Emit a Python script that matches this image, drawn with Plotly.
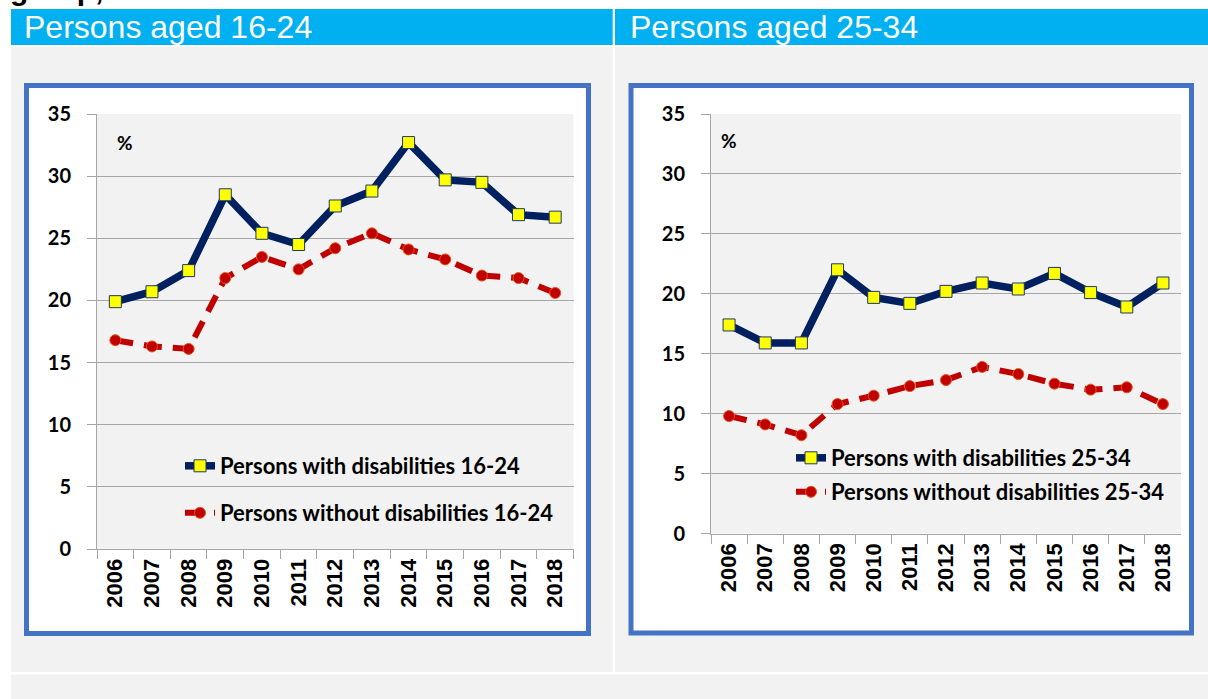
import plotly.graph_objects as go

# ---------------- data ----------------
years = ["2006", "2007", "2008", "2009", "2010", "2011", "2012",
         "2013", "2014", "2015", "2016", "2017", "2018"]
with_dis_16_24 = [19.9, 20.7, 22.4, 28.5, 25.4, 24.5, 27.6, 28.8, 32.7, 29.7, 29.5, 26.9, 26.7]
without_dis_16_24 = [16.8, 16.3, 16.1, 21.8, 23.5, 22.5, 24.2, 25.4, 24.1, 23.3, 22.0, 21.8, 20.6]
with_dis_25_34 = [17.4, 15.9, 15.9, 22.0, 19.7, 19.2, 20.2, 20.9, 20.4, 21.7, 20.1, 18.9, 20.9]
without_dis_25_34 = [9.8, 9.1, 8.2, 10.8, 11.5, 12.3, 12.8, 13.9, 13.3, 12.5, 12.0, 12.2, 10.8]
y_ticks = [0, 5, 10, 15, 20, 25, 30, 35]
panel_titles = ["Persons aged 16-24", "Persons aged 25-34"]
legend_names = [
    ["Persons with disabilities 16-24", "Persons without disabilities 16-24"],
    ["Persons with disabilities 25-34", "Persons without disabilities 25-34"],
]

W, H = 1208, 699


def px(x):
    return x / W


def py(y):
    return 1 - y / H


NAVY = "#002060"
RED = "#c00000"
GRID = "#a6a6a6"
BOXBLUE = "#4472c4"
HEADBLUE = "#00b0f0"
PANEL = "#f2f2f2"

fig = go.Figure()

series = [
    (with_dis_16_24, without_dis_16_24, "x", "y", "legend", "legend2", 0),
    (with_dis_25_34, without_dis_25_34, "x2", "y2", "legend3", "legend4", 1),
]
for w, wo, xa, ya, lg1, lg2, i in series:
    fig.add_trace(go.Scatter(
        x=years, y=w, xaxis=xa, yaxis=ya, mode="lines+markers",
        name=legend_names[i][0], legend=lg1,
        line=dict(color=NAVY, width=7.5),
        marker=dict(symbol="square", size=12, color="#ffff00",
                    line=dict(color="#1f3864", width=1)),
    ))
    fig.add_trace(go.Scatter(
        x=years, y=wo, xaxis=xa, yaxis=ya, mode="lines+markers",
        name=legend_names[i][1], legend=lg2,
        line=dict(color=RED, width=6, dash="18px,11px"),
        marker=dict(symbol="circle", size=11, color=RED,
                    line=dict(color="#e4541a", width=1)),
    ))

shapes = []
# grey table cells
shapes.append(dict(type="rect", xref="paper", yref="paper", x0=px(11), x1=px(612.7),
                   y0=py(672), y1=py(47), fillcolor=PANEL, line_width=0, layer="below"))
shapes.append(dict(type="rect", xref="paper", yref="paper", x0=px(615), x1=px(1208),
                   y0=py(672), y1=py(47), fillcolor=PANEL, line_width=0, layer="below"))
shapes.append(dict(type="rect", xref="paper", yref="paper", x0=px(11), x1=px(1208),
                   y0=py(699), y1=py(674.5), fillcolor=PANEL, line_width=0, layer="below"))
# blue headers
shapes.append(dict(type="rect", xref="paper", yref="paper", x0=px(11), x1=px(612.7),
                   y0=py(45), y1=py(9), fillcolor=HEADBLUE, line_width=0, layer="below"))
shapes.append(dict(type="rect", xref="paper", yref="paper", x0=px(615), x1=px(1208),
                   y0=py(45), y1=py(9), fillcolor=HEADBLUE, line_width=0, layer="below"))
# chart boxes
shapes.append(dict(type="rect", xref="paper", yref="paper", x0=px(26.5), x1=px(588.5),
                   y0=py(633.5), y1=py(85.5), fillcolor="white",
                   line=dict(color=BOXBLUE, width=5), layer="below"))
shapes.append(dict(type="rect", xref="paper", yref="paper", x0=px(631), x1=px(1191.5),
                   y0=py(633), y1=py(85.5), fillcolor="white",
                   line=dict(color=BOXBLUE, width=5), layer="below"))
# plot area backgrounds
for xa, ya in [("x", "y"), ("x2", "y2")]:
    shapes.append(dict(type="rect", xref=xa + " domain", yref=ya + " domain",
                       x0=0, x1=1, y0=0, y1=1, fillcolor=PANEL, line_width=0, layer="below"))

annotations = []
annotations.append(dict(text="group, 25", xref="paper", yref="paper", x=px(8), y=py(8),
                        xanchor="left", yanchor="bottom", showarrow=False,
                        font=dict(family="Liberation Sans", size=30, color="black", weight="bold")))
for t, x in zip(panel_titles, [22, 628]):
    annotations.append(dict(text=t, xref="paper", yref="paper", x=px(x), y=py(27.5),
                            xanchor="left", yanchor="middle", showarrow=False,
                            font=dict(family="Liberation Sans", size=32, color="white")))
for x, y in [(125, 142), (729, 140)]:
    annotations.append(dict(text="%", xref="paper", yref="paper", x=px(x), y=py(y),
                            xanchor="center", yanchor="middle", showarrow=False,
                            font=dict(family="Lato", size=19, color="black", weight="bold")))

xaxis_common = dict(
    type="category", range=[-0.5, 12.5], automargin=False,
    showline=True, linecolor=GRID, linewidth=1,
    ticks="outside", ticklen=9, tickcolor=GRID, tickson="boundaries",
    showgrid=False, tickangle=-90, ticklabelstandoff=0,
    tickfont=dict(family="Liberation Sans", size=22, color="black", weight="bold"),
    fixedrange=True,
)
yaxis_common = dict(
    range=[0, 35], tickvals=y_ticks, automargin=False,
    showline=True, linecolor=GRID, linewidth=1,
    ticks="outside", ticklen=9, tickcolor=GRID, showgrid=True, gridcolor=GRID,
    gridwidth=1, zeroline=False, ticklabelstandoff=12,
    tickfont=dict(family="Lato", size=20, color="black", weight="bold"),
    fixedrange=True,
)

legend_common = dict(bgcolor="rgba(0,0,0,0)", borderwidth=0, xanchor="left", yanchor="middle",
                     font=dict(family="Lato", size=22, color="black", weight="bold"),
                     itemclick=False, itemdoubleclick=False)

fig.update_layout(
    template="none",
    width=W, height=H, margin=dict(l=0, r=0, t=0, b=0, pad=0, autoexpand=False),
    paper_bgcolor="white", plot_bgcolor=PANEL,
    showlegend=True,
    xaxis=dict(xaxis_common, domain=[px(97), px(573.5)], anchor="y"),
    yaxis=dict(yaxis_common, domain=[py(549), py(114)], anchor="x"),
    xaxis2=dict(xaxis_common, domain=[px(711), px(1181)], anchor="y2"),
    yaxis2=dict(yaxis_common, domain=[py(533.5), py(114)], anchor="x2"),
    legend=dict(legend_common, x=px(180), y=py(466)),
    legend2=dict(legend_common, x=px(180), y=py(513)),
    legend3=dict(legend_common, x=px(791), y=py(458)),
    legend4=dict(legend_common, x=px(791), y=py(492)),
    shapes=shapes,
    annotations=annotations,
)

fig.write_html("out.html", config={"displayModeBar": False},
               post_script="document.body.style.margin='0';")
